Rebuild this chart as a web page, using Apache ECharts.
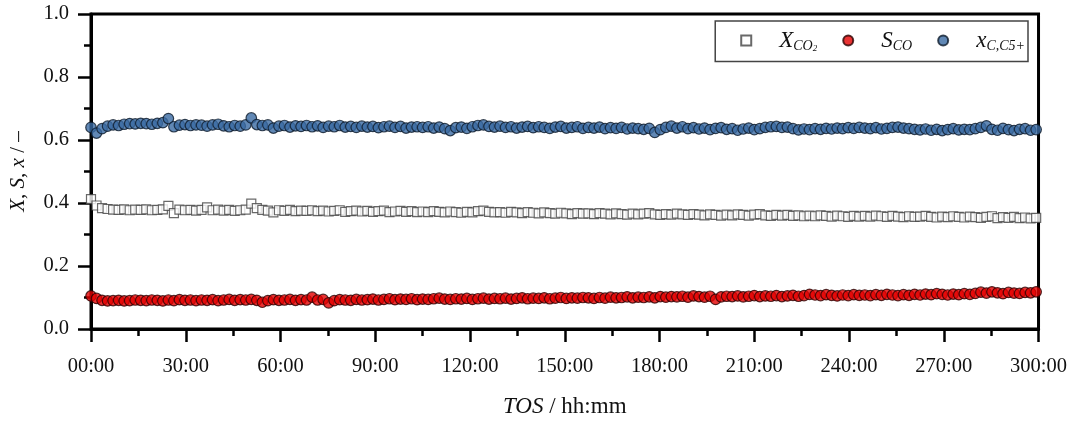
<!DOCTYPE html>
<html>
<head>
<meta charset="utf-8">
<script src="https://cdn.jsdelivr.net/npm/echarts@6/dist/echarts.min.js"></script>
<style>
  html, body { margin: 0; padding: 0; background: #fff; }
  #chart { width: 1070px; height: 425px; }
</style>
</head>
<body>
<div id="chart"></div>
<script>
// Time on stream, hours
const TOS_H = [
  0,1.75,3.5,5.25,7,8.75,10.5,12.25,14,15.75,
  17.5,19.25,21,22.75,24.5,26.25,28,29.75,31.5,33.25,
  35,36.75,38.5,40.25,42,43.75,45.5,47.25,49,50.75,
  52.5,54.25,56,57.75,59.5,61.25,63,64.75,66.5,68.25,
  70,71.75,73.5,75.25,77,78.75,80.5,82.25,84,85.75,
  87.5,89.25,91,92.75,94.5,96.25,98,99.75,101.5,103.25,
  105,106.75,108.5,110.25,112,113.75,115.5,117.25,119,120.75,
  122.5,124.25,126,127.75,129.5,131.25,133,134.75,136.5,138.25,
  140,141.75,143.5,145.25,147,148.75,150.5,152.25,154,155.75,
  157.5,159.25,161,162.75,164.5,166.25,168,169.75,171.5,173.25,
  175,176.75,178.5,180.25,182,183.75,185.5,187.25,189,190.75,
  192.5,194.25,196,197.75,199.5,201.25,203,204.75,206.5,208.25,
  210,211.75,213.5,215.25,217,218.75,220.5,222.25,224,225.75,
  227.5,229.25,231,232.75,234.5,236.25,238,239.75,241.5,243.25,
  245,246.75,248.5,250.25,252,253.75,255.5,257.25,259,260.75,
  262.5,264.25,266,267.75,269.5,271.25,273,274.75,276.5,278.25,
  280,281.75,283.5,285.25,287,288.75,290.5,292.25,294,295.75,297.5,299.25
];

// CO2 conversion X_CO2
const X_CO2 = [
  0.412,0.392,0.384,0.381,0.379,0.378,0.380,0.377,0.379,0.378,
  0.380,0.377,0.378,0.380,0.391,0.368,0.379,0.377,0.378,0.376,
  0.378,0.386,0.377,0.379,0.376,0.378,0.375,0.377,0.379,0.398,
  0.384,0.378,0.376,0.370,0.377,0.375,0.378,0.374,0.376,0.375,
  0.377,0.374,0.376,0.373,0.375,0.377,0.372,0.374,0.376,0.373,
  0.375,0.372,0.374,0.376,0.371,0.373,0.375,0.372,0.374,0.371,
  0.373,0.371,0.374,0.372,0.370,0.373,0.371,0.369,0.372,0.370,
  0.374,0.376,0.372,0.370,0.371,0.369,0.372,0.370,0.368,0.371,
  0.369,0.367,0.370,0.368,0.366,0.369,0.367,0.365,0.368,0.366,
  0.367,0.365,0.368,0.366,0.364,0.367,0.365,0.363,0.366,0.364,
  0.366,0.368,0.364,0.362,0.365,0.363,0.366,0.364,0.362,0.365,
  0.363,0.361,0.364,0.362,0.360,0.363,0.361,0.364,0.362,0.360,
  0.363,0.365,0.361,0.359,0.362,0.360,0.362,0.359,0.361,0.358,
  0.360,0.358,0.361,0.359,0.357,0.360,0.358,0.356,0.359,0.357,
  0.359,0.357,0.360,0.358,0.356,0.359,0.357,0.355,0.358,0.356,
  0.357,0.359,0.356,0.354,0.357,0.355,0.358,0.356,0.354,0.357,
  0.355,0.353,0.356,0.358,0.352,0.355,0.353,0.356,0.352,0.354,0.351,0.353
];

// CO selectivity S_CO
const S_CO = [
  0.105,0.097,0.091,0.089,0.090,0.091,0.089,0.090,0.092,0.091,
  0.090,0.092,0.091,0.089,0.092,0.090,0.093,0.091,0.092,0.090,
  0.092,0.091,0.093,0.090,0.092,0.094,0.091,0.093,0.092,0.094,
  0.091,0.085,0.090,0.093,0.091,0.092,0.094,0.091,0.093,0.092,
  0.101,0.092,0.094,0.083,0.090,0.093,0.092,0.091,0.094,0.092,
  0.093,0.095,0.092,0.094,0.096,0.093,0.095,0.094,0.096,0.093,
  0.095,0.094,0.096,0.098,0.095,0.094,0.096,0.095,0.097,0.094,
  0.096,0.098,0.095,0.097,0.096,0.098,0.095,0.097,0.099,0.096,
  0.098,0.097,0.099,0.096,0.098,0.100,0.097,0.099,0.098,0.100,
  0.099,0.097,0.100,0.098,0.101,0.099,0.100,0.102,0.099,0.101,
  0.100,0.102,0.099,0.103,0.101,0.103,0.102,0.104,0.101,0.105,
  0.103,0.101,0.104,0.094,0.102,0.104,0.103,0.105,0.102,0.104,
  0.106,0.103,0.105,0.104,0.106,0.103,0.105,0.107,0.104,0.106,
  0.110,0.108,0.106,0.109,0.107,0.105,0.108,0.106,0.109,0.107,
  0.108,0.106,0.109,0.107,0.110,0.108,0.106,0.109,0.107,0.110,
  0.108,0.111,0.109,0.112,0.110,0.108,0.111,0.109,0.112,0.110,
  0.113,0.117,0.114,0.118,0.115,0.112,0.116,0.114,0.113,0.116,0.115,0.118
];

// C5+ carbon fraction x_C,C5+
const X_C5 = [
  0.640,0.622,0.636,0.644,0.648,0.646,0.650,0.652,0.651,0.653,
  0.652,0.650,0.653,0.655,0.668,0.642,0.647,0.649,0.646,0.648,
  0.647,0.644,0.648,0.650,0.645,0.642,0.646,0.644,0.648,0.670,
  0.649,0.646,0.648,0.638,0.644,0.646,0.641,0.645,0.643,0.646,
  0.642,0.645,0.640,0.644,0.642,0.646,0.641,0.643,0.640,0.644,
  0.641,0.643,0.639,0.642,0.644,0.640,0.643,0.638,0.641,0.642,
  0.640,0.642,0.638,0.641,0.636,0.630,0.639,0.641,0.637,0.642,
  0.646,0.648,0.643,0.641,0.644,0.640,0.642,0.638,0.641,0.643,
  0.639,0.642,0.640,0.637,0.641,0.643,0.638,0.640,0.642,0.637,
  0.640,0.638,0.641,0.636,0.639,0.637,0.640,0.635,0.638,0.636,
  0.634,0.637,0.624,0.633,0.640,0.644,0.638,0.642,0.636,0.639,
  0.635,0.638,0.633,0.637,0.639,0.634,0.636,0.631,0.635,0.638,
  0.633,0.636,0.640,0.642,0.643,0.640,0.641,0.636,0.632,0.635,
  0.633,0.636,0.634,0.637,0.635,0.638,0.636,0.639,0.637,0.640,
  0.638,0.636,0.639,0.635,0.637,0.640,0.641,0.638,0.636,0.634,
  0.632,0.635,0.631,0.634,0.630,0.633,0.636,0.632,0.634,0.633,
  0.636,0.640,0.645,0.634,0.631,0.637,0.633,0.630,0.634,0.636,0.631,0.633
];

const X_TICKS = [0, 300, 30];   // min, max, step (hours)
const Y_TICKS = [0, 1, 0.2];

const FONT = 'Liberation Serif';
const INK = '#111';

function pairs(xs, ys) { return xs.map((x, i) => [x, ys[i]]); }

const rich = {
  i:   { fontFamily: FONT, fontStyle: 'italic', fontSize: 23, color: INK, lineHeight: 26 },
  s:   { fontFamily: FONT, fontStyle: 'italic', fontSize: 14, color: INK, lineHeight: 11, verticalAlign: 'bottom' },
  ss:  { fontFamily: FONT, fontStyle: 'italic', fontSize: 9,  color: INK, lineHeight: 4,  verticalAlign: 'bottom' },
  g:   { width: 23 }
};

const chart = echarts.init(document.getElementById('chart'), null, { renderer: 'canvas' });

chart.setOption({
  animation: false,
  backgroundColor: '#fff',
  grid: {
    left: 91, right: 31, top: 14, bottom: 96,
    show: true, borderColor: '#000', borderWidth: 3, backgroundColor: 'transparent'
  },
  legend: {
    right: 42, top: 21,
    orient: 'horizontal',
    padding: [8, 3, 8, 25],
    itemGap: 25,
    itemWidth: 10, itemHeight: 10,
    borderColor: '#444', borderWidth: 1.5,
    textStyle: { fontFamily: FONT, color: INK, rich: rich },
    formatter: function (name) {
      if (name === 'X_CO2') return '{g| }{i|X}{s|CO}{ss|2}';
      if (name === 'S_CO') return '{g| }{i|S}{s|CO}';
      return '{g| }{i|x}{s|C,C5+}';
    },
    data: ['X_CO2', 'S_CO', 'x_C5']
  },
  xAxis: {
    type: 'value',
    min: X_TICKS[0], max: X_TICKS[1], interval: X_TICKS[2],
    name: '{i|TOS} / hh:mm',
    nameLocation: 'middle',
    nameGap: 66,
    nameTextStyle: { fontFamily: FONT, fontSize: 23, color: INK,
      rich: { i: { fontFamily: FONT, fontStyle: 'italic', fontSize: 23, color: INK } } },
    axisLine: { lineStyle: { color: '#000', width: 3 } },
    axisTick: { show: true, inside: false, length: 13, lineStyle: { color: '#000', width: 2.5 } },
    minorTick: { show: true, splitNumber: 2, length: 7, lineStyle: { color: '#000', width: 2.5 } },
    splitLine: { show: false },
    axisLabel: {
      margin: 27, fontFamily: FONT, fontSize: 20.5, color: INK,
      formatter: v => String(v).padStart(2, '0') + ':00'
    }
  },
  yAxis: {
    type: 'value',
    min: Y_TICKS[0], max: Y_TICKS[1], interval: Y_TICKS[2],
    name: '{i|X}, {i|S}, {i|x} / \u2013',
    nameLocation: 'middle',
    nameGap: 62,
    nameRotate: 90,
    nameTextStyle: { fontFamily: FONT, fontSize: 21, color: INK,
      rich: { i: { fontFamily: FONT, fontStyle: 'italic', fontSize: 21, color: INK } } },
    axisLine: { show: true, lineStyle: { color: '#000', width: 3 } },
    axisTick: { show: true, inside: false, length: 13, lineStyle: { color: '#000', width: 2.5 } },
    minorTick: { show: true, splitNumber: 2, length: 7, lineStyle: { color: '#000', width: 2.5 } },
    splitLine: { show: false },
    axisLabel: {
      margin: 22, fontFamily: FONT, fontSize: 20.5, color: INK,
      formatter: v => v.toFixed(1)
    }
  },
  series: [
    {
      name: 'X_CO2', type: 'scatter', clip: false,
      symbol: 'rect', symbolSize: 9,
      itemStyle: { color: '#fff', borderColor: '#444', borderWidth: 1.2 },
      data: pairs(TOS_H, X_CO2)
    },
    {
      name: 'S_CO', type: 'scatter', clip: false,
      symbol: 'circle', symbolSize: 10.5,
      itemStyle: { color: '#e40000', borderColor: '#2a0000', borderWidth: 1.2 },
      data: pairs(TOS_H, S_CO)
    },
    {
      name: 'x_C5', type: 'scatter', clip: false,
      symbol: 'circle', symbolSize: 10.5,
      itemStyle: { color: '#3a6aa3', borderColor: '#0d1a2a', borderWidth: 1.2 },
      data: pairs(TOS_H, X_C5)
    }
  ]
});
</script>
</body>
</html>
